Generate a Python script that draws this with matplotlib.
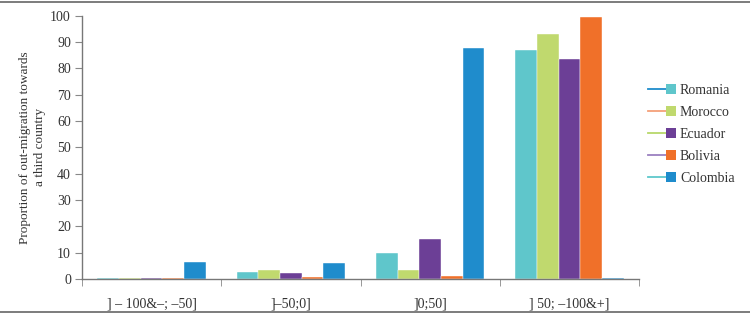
import matplotlib
matplotlib.use("Agg")
import matplotlib.pyplot as plt
import numpy as np
from matplotlib.lines import Line2D
from matplotlib.patches import Rectangle
from matplotlib.legend_handler import HandlerBase

categories = ["] – 100&–; –50]", "]–50;0]", "]0;50]", "] 50; –100&+]"]
series = ["Romania", "Morocco", "Ecuador", "Bolivia", "Colombia"]
romania = [0.5, 2.8, 10.0, 87.0]
morocco = [0.5, 3.4, 3.4, 93.2]
ecuador = [0.5, 2.1, 15.2, 83.4]
bolivia = [0.5, 0.7, 1.1, 99.4]
colombia = [6.5, 6.1, 87.6, 0.5]
values = [romania, morocco, ecuador, bolivia, colombia]

bar_colors = ["#5fc6cb", "#c0d96e", "#6c3f96", "#f07029", "#1f8ccc"]
line_colors = ["#1f8ccc", "#f4a07a", "#b8d86a", "#9b80c0", "#5ec8cc"]

plt.rcParams['font.family'] = ['Liberation Serif', 'DejaVu Serif']

fig = plt.figure(figsize=(7.5, 3.16), dpi=100)
ax = fig.add_axes([82/750, 1-279/316, (639-82)/750, (279-15.7)/316])

n = len(series)
group_w = 0.78
bw = group_w / n
x = np.arange(len(categories))
for i, (vals, c) in enumerate(zip(values, bar_colors)):
    ax.bar(x - group_w/2 + bw*(i+0.5), vals, width=bw, color=c,
           edgecolor='white', linewidth=0.3, zorder=2)

ax.set_xlim(-0.5, len(categories)-0.5)
ax.set_ylim(0, 100)
ax.set_yticks(range(0, 101, 10))
ax.set_xticks(x)
ax.set_xticklabels(categories, fontsize=10, color='#333333')
ax.tick_params(axis='x', which='major', length=0, pad=13)
ax.set_xticks(np.arange(-0.5, len(categories), 1), minor=True)
ax.tick_params(axis='x', which='minor', length=5, color='#888888', direction='out')
ax.tick_params(axis='y', length=5, color='#888888', labelsize=10, labelcolor='#333333', pad=3)
for s in ['top', 'right']:
    ax.spines[s].set_visible(False)
for s in ['left', 'bottom']:
    ax.spines[s].set_color('#777777')
    ax.spines[s].set_linewidth(1.0)
ax.set_ylabel("Proportion of out-migration towards\na third country", fontsize=9.5,
              color='#333333', labelpad=3, linespacing=1.35)


class LineSquareHandler(HandlerBase):
    def __init__(self, lc, sc):
        super().__init__()
        self.lc = lc
        self.sc = sc

    def create_artists(self, legend, orig_handle, xdescent, ydescent, width, height, fontsize, trans):
        sq = height * 1.0
        ymid = height / 2 - ydescent
        line = Line2D([-xdescent, -xdescent + width - sq], [ymid, ymid], color=self.lc, lw=1.3, transform=trans)
        rect = Rectangle((-xdescent + width - sq, ymid - sq/2), sq, sq, facecolor=self.sc,
                         edgecolor='none', transform=trans)
        return [line, rect]


handles = [Rectangle((0, 0), 1, 1) for _ in series]
hmap = {h: LineSquareHandler(lc, sc) for h, lc, sc in zip(handles, line_colors, bar_colors)}
leg = fig.legend(handles, series, handler_map=hmap, loc='upper left',
                 bbox_to_anchor=(648/750, 1-84/316), frameon=False, fontsize=10,
                 handlelength=2.0, handletextpad=0.3, labelspacing=0.65,
                 borderpad=0, borderaxespad=0)
for t in leg.get_texts():
    t.set_color('#333333')

fig.add_artist(Line2D([0, 1], [1-2/316, 1-2/316], transform=fig.transFigure, color='#666666', lw=1.2))
fig.add_artist(Line2D([0, 1], [1-312/316, 1-312/316], transform=fig.transFigure, color='#666666', lw=1.2))

fig.savefig("out.png", dpi=100)
